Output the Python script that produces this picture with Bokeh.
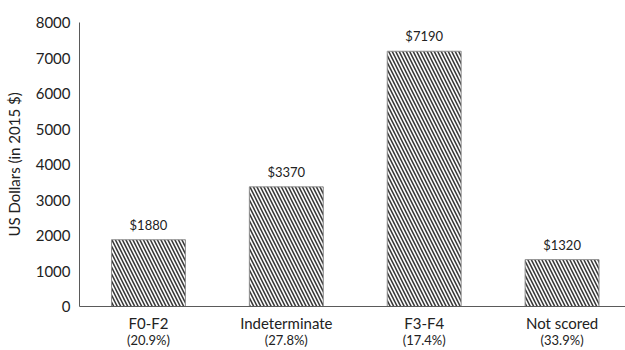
from bokeh.plotting import figure
from bokeh.models import Range1d, LinearAxis, FixedTicker, ColumnDataSource, LabelSet
from bokeh.core.properties import value
from bokeh.embed import file_html
from bokeh.resources import INLINE

categories = ["F0-F2", "Indeterminate", "F3-F4", "Not scored"]
shares = ["(20.9%)", "(27.8%)", "(17.4%)", "(33.9%)"]
costs = [1880, 3370, 7190, 1320]
cost_labels = ["$1880", "$3370", "$7190", "$1320"]
y_ticks = [0, 1000, 2000, 3000, 4000, 5000, 6000, 7000, 8000]

FONT = "Lato"
TXT = "#222222"

xs = list(range(len(categories)))
src = ColumnDataSource(dict(x=xs, top=costs, lab=cost_labels))

p = figure(width=625, height=350, output_backend="svg", toolbar_location=None,
           x_range=Range1d(-0.5, 3.46), y_range=Range1d(0, 8000),
           min_border_left=79, min_border_right=0, min_border_top=22, min_border_bottom=10,
           x_axis_location=None)
p.outline_line_color = None
p.xgrid.visible = False
p.ygrid.visible = False

p.vbar(x="x", top="top", width=0.536, source=src, fill_color="white",
       line_color="#8c8c8c", line_width=1,
       hatch_pattern="left_diagonal_line", hatch_color="#3a3a3a",
       hatch_scale=7, hatch_weight=1.6)

labels = LabelSet(x="x", y="top", text="lab", source=src, text_align="center",
                  text_baseline="bottom", y_offset=7, text_font=value(FONT),
                  text_font_size=value("13px"), text_color=TXT)
p.add_layout(labels)

# y axis
ya = p.yaxis[0]
ya.ticker = FixedTicker(ticks=y_ticks)
ya.major_tick_line_color = None
ya.minor_tick_line_color = None
ya.major_tick_out = 0
ya.major_tick_in = 0
ya.minor_tick_out = 0
ya.axis_line_color = "#5a5a5a"
ya.major_label_text_font = FONT
ya.major_label_text_font_size = "15px"
ya.major_label_text_color = TXT
ya.major_label_standoff = 9
ya.axis_label = "US Dollars (in 2015 $)"
ya.axis_label_text_font = FONT
ya.axis_label_text_font_style = "normal"
ya.axis_label_text_font_size = "15px"
ya.axis_label_text_color = TXT
ya.axis_label_standoff = 10

# x axes (category names + shares)
xa1 = LinearAxis(ticker=FixedTicker(ticks=xs),
                 major_label_overrides={i: c for i, c in zip(xs, categories)})
xa1.major_tick_line_color = None
xa1.minor_tick_line_color = None
xa1.major_tick_out = 0
xa1.major_tick_in = 0
xa1.minor_tick_out = 0
xa1.axis_line_color = "#5a5a5a"
xa1.major_label_text_font = FONT
xa1.major_label_text_font_size = "15px"
xa1.major_label_text_color = TXT
xa1.major_label_standoff = 7
p.add_layout(xa1, "below")

xa2 = LinearAxis(ticker=FixedTicker(ticks=xs),
                 major_label_overrides={i: s for i, s in zip(xs, shares)})
xa2.major_tick_line_color = None
xa2.minor_tick_line_color = None
xa2.major_tick_out = 0
xa2.major_tick_in = 0
xa2.minor_tick_out = 0
xa2.axis_line_color = None
xa2.major_label_text_font = FONT
xa2.major_label_text_font_size = "13px"
xa2.major_label_text_color = TXT
xa2.major_label_standoff = -3
p.add_layout(xa2, "below")

open("out.html", "w").write(file_html(p, INLINE))
